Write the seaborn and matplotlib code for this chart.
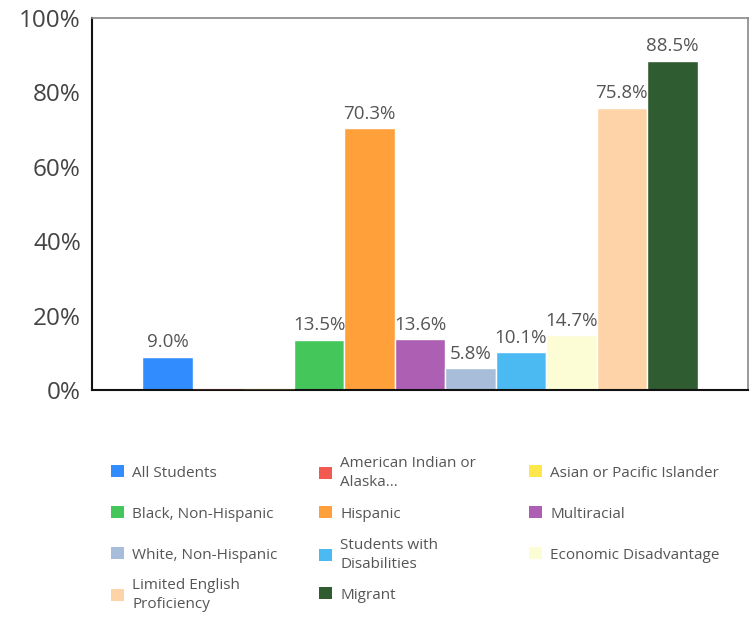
import matplotlib
matplotlib.use("Agg")
import matplotlib.pyplot as plt
from matplotlib.patches import Patch
from matplotlib.ticker import FuncFormatter
import seaborn as sns
import pandas as pd

# Student groups and the share of each group (percent)
groups = [
    "All Students",
    "American Indian or Alaska Native",
    "Asian or Pacific Islander",
    "Black, Non-Hispanic",
    "Hispanic",
    "Multiracial",
    "White, Non-Hispanic",
    "Students with Disabilities",
    "Economic Disadvantage",
    "Limited English Proficiency",
    "Migrant",
]
values = [9.0, 0.0, 0.0, 13.5, 70.3, 13.6, 5.8, 10.1, 14.7, 75.8, 88.5]
shown = [True, False, False, True, True, True, True, True, True, True, True]
legend_labels = [
    "All Students",
    "American Indian or\nAlaska...",
    "Asian or Pacific Islander",
    "Black, Non-Hispanic",
    "Hispanic",
    "Multiracial",
    "White, Non-Hispanic",
    "Students with\nDisabilities",
    "Economic Disadvantage",
    "Limited English\nProficiency",
    "Migrant",
]
colors = [
    "#318cfe", "#f25a51", "#fde74c", "#45c65a", "#ffa03b", "#ad5fb4",
    "#a8bdd9", "#4bbaf2", "#fdfdd5", "#fed3a8", "#305c32",
]
yticks = [0, 20, 40, 60, 80, 100]

df = pd.DataFrame({"group": groups, "value": values})
palette = dict(zip(groups, colors))

sns.set_theme(style="white")
plt.rcParams["font.family"] = ["Open Sans", "DejaVu Sans"]

fig = plt.figure(figsize=(7.56, 6.17), dpi=100)
ax = fig.add_axes([92 / 756, 1 - 390 / 617, 656 / 756, 372 / 617])

sns.barplot(data=df, x="group", y="value", hue="group", palette=palette,
            order=groups, hue_order=groups, width=1.0, legend=False,
            edgecolor="white", linewidth=1.0, saturation=1.0, ax=ax)

# zero-height bars show as a thin stroke in their own colour, above the axis line
for patch in ax.patches:
    if patch.get_height() == 0:
        patch.set_edgecolor(patch.get_facecolor())
        patch.set_linewidth(1.0)
        patch.set_zorder(3)

# value labels above each bar
for i, (v, s) in enumerate(zip(values, shown)):
    if s:
        ax.annotate(f"{v:.1f}%", (i, v), xytext=(0, 4), textcoords="offset points",
                    ha="center", va="bottom", fontsize=13.5, color="#555555")

ax.set_xlim(-1.5, 11.5)
ax.set_ylim(0, 100)
ax.set_yticks(yticks)
ax.yaxis.set_major_formatter(FuncFormatter(lambda v, _: f"{v:.0f}%"))
ax.tick_params(axis="y", labelsize=17.5, labelcolor="#444444", length=0, pad=8)
ax.set_xticks([])
ax.set_xlabel("")
ax.set_ylabel("")

for side in ("left", "bottom"):
    ax.spines[side].set_color("#111111")
    ax.spines[side].set_linewidth(1.5)
for side in ("top", "right"):
    ax.spines[side].set_color("#888888")
    ax.spines[side].set_linewidth(1.2)

# legend laid out as a 3-column grid, row by row
col_x = [111, 319, 529]
row_y = [473, 514, 555, 595]
for k, (lab, col) in enumerate(zip(legend_labels, colors)):
    r, c = divmod(k, 3)
    leg = fig.legend(handles=[Patch(facecolor=col, edgecolor="none")], labels=[lab],
                     loc="center left",
                     bbox_to_anchor=(col_x[c] / 756, 1 - row_y[r] / 617),
                     frameon=False, fontsize=11, labelcolor="#555555",
                     handlelength=0.85, handleheight=0.85, handletextpad=0.55,
                     borderpad=0, borderaxespad=0)
    for t in leg.get_texts():
        t.set_linespacing(1.45)

fig.savefig("out.png", dpi=100)
